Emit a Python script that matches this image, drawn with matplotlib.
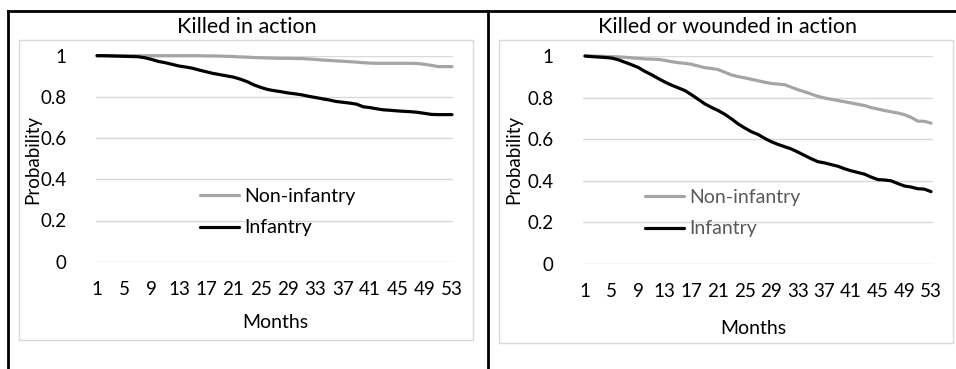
import numpy as np
import matplotlib
matplotlib.use("Agg")
import matplotlib.pyplot as plt
from matplotlib.patches import Rectangle
from matplotlib.lines import Line2D

plt.rcParams['font.family'] = ['Lato', 'DejaVu Sans']

months = np.arange(1, 54)
tick_months = months[::4]

# killed in action
kia_infantry = [1.0, 1.0, 0.999, 0.998, 0.997, 0.996, 0.995, 0.99, 0.982, 0.972,
                0.966, 0.958, 0.95, 0.945, 0.939, 0.93, 0.922, 0.914, 0.908, 0.902,
                0.896, 0.886, 0.874, 0.858, 0.846, 0.836, 0.83, 0.825, 0.819, 0.815,
                0.81, 0.803, 0.797, 0.791, 0.785, 0.778, 0.774, 0.77, 0.765, 0.752,
                0.748, 0.742, 0.737, 0.735, 0.732, 0.73, 0.728, 0.725, 0.72, 0.715,
                0.714, 0.714, 0.714]
kia_noninf = [1.0] * 16 + [0.999, 0.999, 0.998, 0.997, 0.996, 0.994, 0.993, 0.991,
              0.99, 0.989, 0.988, 0.987, 0.987, 0.986, 0.986, 0.984, 0.982, 0.979,
              0.977, 0.975, 0.973, 0.971, 0.969, 0.966, 0.964, 0.963, 0.963, 0.963,
              0.963, 0.963, 0.963, 0.962, 0.958, 0.953, 0.947, 0.947, 0.947]

# killed or wounded in action
kwia_infantry = [1.0, 0.997, 0.995, 0.993, 0.99, 0.982, 0.97, 0.958, 0.945, 0.926,
                 0.91, 0.892, 0.875, 0.86, 0.847, 0.834, 0.814, 0.792, 0.77, 0.753,
                 0.738, 0.72, 0.698, 0.674, 0.654, 0.636, 0.623, 0.604, 0.588, 0.575,
                 0.564, 0.553, 0.538, 0.522, 0.506, 0.492, 0.486, 0.478, 0.47, 0.458,
                 0.448, 0.44, 0.432, 0.418, 0.406, 0.404, 0.4, 0.387, 0.375, 0.37,
                 0.362, 0.36, 0.348]
kwia_noninf = [1.0, 1.0, 0.999, 0.998, 0.997, 0.996, 0.994, 0.991, 0.989, 0.986,
               0.985, 0.984, 0.979, 0.973, 0.968, 0.965, 0.96, 0.952, 0.944, 0.94,
               0.935, 0.922, 0.909, 0.901, 0.895, 0.888, 0.881, 0.874, 0.868, 0.865,
               0.862, 0.85, 0.838, 0.828, 0.817, 0.806, 0.798, 0.792, 0.786, 0.78,
               0.774, 0.768, 0.762, 0.752, 0.745, 0.738, 0.732, 0.726, 0.718, 0.705,
               0.687, 0.686, 0.677]

W, H = 956, 369
fig = plt.figure(figsize=(W / 100, H / 100), dpi=100)

def px(x0, y0, x1, y1):
    # pixel box -> figure fraction [left, bottom, width, height]
    return [x0 / W, 1 - y1 / H, (x1 - x0) / W, (y1 - y0) / H]

# black table frame
fig.add_artist(Line2D([8 / W, 1], [1 - 10.5 / H] * 2, color='black', lw=2))
fig.add_artist(Line2D([8 / W] * 2, [0, 1 - 10.5 / H], color='black', lw=2))
fig.add_artist(Line2D([488 / W] * 2, [0, 1 - 10.5 / H], color='black', lw=2))

panels = [
    dict(title="Killed in action", inf=kia_infantry, non=kia_noninf,
         box=(19, 40, 473, 340), ax=(96, 55.7, 453, 261.7), xlim=(0.85, 53.15),
         title_xy=(247, 27), xlab=(275, 322), ylab_x=33, leg=(0.291, 0.241),
         legcol='black'),
    dict(title="Killed or wounded in action", inf=kwia_infantry, non=kwia_noninf,
         box=(499, 40, 953, 343), ax=(583, 56, 933, 264), xlim=(0.7, 53.3),
         title_xy=(728, 27), xlab=(753, 328), ylab_x=514, leg=(0.177, 0.245),
         legcol='#595959'),
]

for p in panels:
    bx0, by0, bx1, by1 = p['box']
    fig.add_artist(Rectangle((bx0 / W, 1 - by1 / H), (bx1 - bx0) / W, (by1 - by0) / H,
                             transform=fig.transFigure, fill=False,
                             edgecolor='#d9d9d9', lw=1))
    ax = fig.add_axes(px(*p['ax']))
    ax.plot(months, p['non'], color='#a5a5a5', lw=2.3, label='Non-infantry',
            clip_on=False, solid_capstyle='round')
    ax.plot(months, p['inf'], color='black', lw=2.3, label='Infantry',
            clip_on=False, solid_capstyle='round')
    ax.set_xlim(*p['xlim'])
    ax.set_ylim(0, 1)
    ax.set_yticks([0, 0.2, 0.4, 0.6, 0.8, 1])
    ax.set_yticklabels(['0', '0.2', '0.4', '0.6', '0.8', '1'])
    ax.set_xticks(tick_months)
    ax.tick_params(length=0, labelsize=13.5, colors='black')
    ax.tick_params(axis='y', pad=21)
    ax.tick_params(axis='x', pad=14)
    ax.grid(axis='y', color='#d9d9d9', lw=1)
    ax.set_axisbelow(True)
    for s in ax.spines.values():
        s.set_visible(False)
    fig.text(p['title_xy'][0] / W, 1 - p['title_xy'][1] / H, p['title'],
             ha='center', va='center', fontsize=15.5)
    fig.text(p['xlab'][0] / W, 1 - p['xlab'][1] / H, 'Months',
             ha='center', va='center', fontsize=14)
    fig.text(p['ylab_x'] / W, 1 - 160 / H, 'Probability', rotation=90,
             ha='center', va='center', fontsize=13.5)
    leg = ax.legend(loc='center left', bbox_to_anchor=p['leg'], frameon=False,
                    borderpad=0, borderaxespad=0, handlelength=2.0,
                    handletextpad=0.3, labelspacing=0.75, fontsize=14)
    for t in leg.get_texts():
        t.set_color(p['legcol'])

fig.savefig('out.png', dpi=100)
